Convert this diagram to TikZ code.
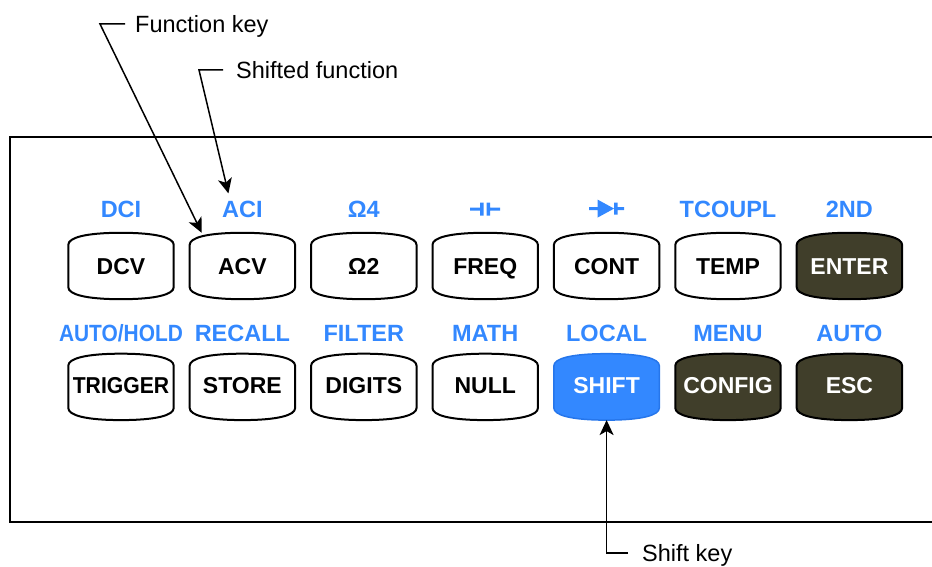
\documentclass[tikz,border=0pt]{standalone}
\usepackage{fontspec}
\usepackage{graphicx}
\setmainfont{Liberation Sans}
\usetikzlibrary{positioning,arrows.meta,backgrounds}
\definecolor{fnblue}{RGB}{51,136,255}
\definecolor{keydark}{RGB}{64,62,42}
\definecolor{shiftedge}{RGB}{38,118,235}
\begin{document}
\begin{tikzpicture}[
  x=1pt, y=1pt,
  key/.style={minimum width=105pt, minimum height=66pt, inner sep=0pt,
    font=\fontsize{23}{23}\selectfont\bfseries, text height=16.5pt, text depth=0pt},
  lowrow/.style={key, text depth=4pt},
  fn/.style={inner sep=0pt, text=fnblue, font=\fontsize{23.5}{23.5}\selectfont\bfseries,
    text height=17pt, text depth=0pt},
  callout/.style={inner sep=0pt, anchor=west, font=\fontsize{23.5}{23.5}\selectfont,
    text height=17pt, text depth=0pt},
  node distance=16pt
]
\tikzset{
  plainkey/.style={draw, line width=2pt, fill=white},
  darkkey/.style={draw, line width=2pt, fill=keydark},
  shiftkey/.style={draw=shiftedge, line width=1.5pt, fill=fnblue},
  symbox/.style={inner sep=0pt},
  pointer/.style={line width=1.5pt, -{Stealth[length=15pt, width=14pt, inset=4pt]}}
}
\useasboundingbox (0,0) rectangle (932,567);
% front panel
\draw[line width=2pt] (933,430) -- (10,430) -- (10,45) -- (933,45);
% keys
\node[key] (dcv) at (121,301) {DCV};
\node[key, right=of dcv] (acv) {ACV};
\node[key, right=of acv] (ohm) {Ω2};
\node[key, right=of ohm] (freq) {FREQ};
\node[key, right=of freq] (cont) {CONT};
\node[key, right=of cont] (temp) {TEMP};
\node[key, right=of temp, text=white] (enter) {ENTER};
\node[lowrow, below=54.5pt of dcv] (trigger) {\scalebox{0.92}[1]{TRIGGER}};
\node[lowrow, right=of trigger] (store) {STORE};
\node[lowrow, right=of store] (digits) {DIGITS};
\node[lowrow, right=of digits] (null) {NULL};
\node[lowrow, right=of null, text=white] (shift) {SHIFT};
\node[lowrow, right=of shift, text=white] (config) {CONFIG};
\node[lowrow, right=of config, text=white] (esc) {ESC};
\begin{scope}[on background layer]
\foreach \k/\sty in {dcv/plainkey, acv/plainkey, ohm/plainkey, freq/plainkey,
    cont/plainkey, temp/plainkey, enter/darkkey, trigger/plainkey, store/plainkey,
    digits/plainkey, null/plainkey, shift/shiftkey, config/darkkey, esc/darkkey}
  \draw[\sty] ([yshift=-12pt]\k.north west) .. controls +(0,7) and +(-36,0) .. (\k.north)
    .. controls +(36,0) and +(0,7) .. ([yshift=-12pt]\k.north east)
    -- ([yshift=12pt]\k.south east) .. controls +(0,-7) and +(36,0) .. (\k.south)
    .. controls +(-36,0) and +(0,-7) .. ([yshift=12pt]\k.south west) -- cycle;
\end{scope}
% shifted functions
\node[fn, above=15pt of dcv] (dci) {DCI};
\node[fn, above=15pt of acv] (aci) {ACI};
\node[fn, above=15pt of ohm] (ohmfour) {Ω4};
\node[symbox, minimum width=30pt, minimum height=13pt, above=17pt of freq] (capsym) {};
\node[symbox, minimum width=35pt, minimum height=18pt, above=15pt of cont] (diodesym) {};
\node[fn, above=15pt of temp] (tcoupl) {TCOUPL};
\node[fn, above=15pt of enter] (second) {2ND};
\node[fn, above=12pt of trigger] (autohold) {\scalebox{0.89}[1]{AUTO/HOLD}};
\node[fn, above=12pt of store] (recall) {RECALL};
\node[fn, above=12pt of digits] (filter) {FILTER};
\node[fn, above=12pt of null] (math) {MATH};
\node[fn, above=12pt of shift] (local) {LOCAL};
\node[fn, above=12pt of config] (menu) {MENU};
\node[fn, above=12pt of esc] (auto) {AUTO};
\fill[fnblue] ([xshift=-15pt,yshift=-1.5pt]capsym.center) rectangle ++(10pt,3pt)
  ([xshift=-5pt,yshift=-6.5pt]capsym.center) rectangle ++(3.5pt,13pt)
  ([xshift=1.5pt,yshift=-6.5pt]capsym.center) rectangle ++(3.5pt,13pt)
  ([xshift=5pt,yshift=-1.5pt]capsym.center) rectangle ++(10pt,3pt);
\fill[fnblue] ([xshift=-17.5pt,yshift=-1.5pt]diodesym.center) rectangle ++(9pt,3pt)
  ([xshift=-9pt,yshift=-9pt]diodesym.center) -- ++(0,18pt) -- ++(16.5pt,-9pt) -- cycle
  ([xshift=7.5pt,yshift=-6pt]diodesym.center) rectangle ++(3.5pt,12pt)
  ([xshift=11pt,yshift=-1.5pt]diodesym.center) rectangle ++(6.5pt,3pt);
% callouts
\node[callout] (fnkey) at (135,543) {Function key};
\node[callout] (shfn) at (236,497) {Shifted function};
\node[callout] (shkey) at (642,14) {Shift key};
\draw[pointer] ([xshift=-10pt]fnkey.west) -- ++(-25pt,0) -- ([xshift=12pt]acv.north west);
\draw[pointer] ([xshift=-13pt]shfn.west) -- ++(-24pt,0) -- ([xshift=-14pt,yshift=7pt]aci.north);
\draw[pointer] ([xshift=-14pt]shkey.west) -| (shift.south);
\end{tikzpicture}
\end{document}
